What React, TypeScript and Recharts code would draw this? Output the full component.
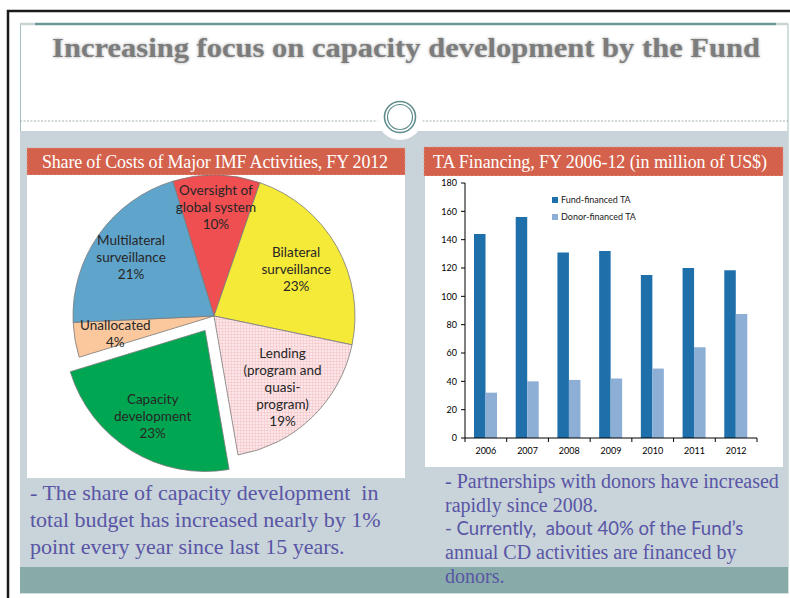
import { PieChart, Pie, Cell, BarChart, Bar, XAxis, YAxis, Legend } from 'recharts'

// ============================================
// Texts
// ============================================

const slideTitle = 'Increasing focus on capacity development by the Fund'
const pieTitle = 'Share of Costs of Major IMF Activities, FY 2012'
const barTitle = 'TA Financing, FY 2006-12 (in million of US$)'

const leftNote = [
  '- The share of capacity development  in',
  'total budget has increased nearly by 1%',
  'point every year since last 15 years.',
]
const rightNote = [
  '- Partnerships with donors have increased',
  'rapidly since 2008.',
  '- Currently,  about 40% of the Fund\u2019s',
  'annual CD activities are financed by',
  'donors.',
]

// ============================================
// Pie data (clockwise, starting at the red slice)
// ============================================

const activityNames = [
  'Oversight of global system',
  'Bilateral surveillance',
  'Lending (program and quasi-program)',
  'Capacity development',
  'Unallocated',
  'Multilateral surveillance',
]
const activityShares = [10, 23, 19, 23, 4, 21]
const activityLabelLines = [
  ['Oversight of', 'global system'],
  ['Bilateral', 'surveillance'],
  ['Lending', '(program and', 'quasi-', 'program)'],
  ['Capacity', 'development'],
  ['Unallocated'],
  ['Multilateral', 'surveillance'],
]

// ============================================
// Bar data
// ============================================

const years = ['2006', '2007', '2008', '2009', '2010', '2011', '2012']
const fundFinanced = [144, 156, 131, 132, 115, 120, 118.5]
const donorFinanced = [32, 40, 41, 42, 49, 64, 87.5]
const seriesNames = ['Fund-financed TA', 'Donor-financed TA']
const yTicks = [0, 20, 40, 60, 80, 100, 120, 140, 160, 180]

// ============================================
// Styles
// ============================================

const sliceFills = ['#ef4f51', '#f6ea38', 'url(#pinkGrid)', '#00a651', '#fbc89d', '#5fa4cb']
const labelRadius = [0.77, 0.67, 0.7, 0.71, 0.71, 0.72]
const explodedIndex = 3
const explodeBy = 17
const startAngle = 107
const seriesColors = ['#1f6fab', '#8daed5']

const noteColor = '#5955a5'
const RADIAN = Math.PI / 180

const pieData = activityNames.map((name, i) => ({ name, share: activityShares[i] }))
const barData = years.map((year, i) => ({ year, fund: fundFinanced[i], donor: donorFinanced[i] }))

// offset of the pulled-out slice, along its middle angle
const totalShare = activityShares.reduce((a, b) => a + b, 0)
const shareBefore = activityShares.slice(0, explodedIndex).reduce((a, b) => a + b, 0)
const explodedMid = startAngle - ((shareBefore + activityShares[explodedIndex] / 2) / totalShare) * 360
const explodeDx = explodeBy * Math.cos(explodedMid * RADIAN)
const explodeDy = -explodeBy * Math.sin(explodedMid * RADIAN)

// ============================================
// Pie labels
// ============================================

function sliceLabel(props: any, onlyExploded: boolean) {
  const { cx, cy, midAngle, outerRadius, index } = props
  if ((index === explodedIndex) !== onlyExploded) return <g />
  const r = outerRadius * labelRadius[index]
  const x = cx + r * Math.cos(-midAngle * RADIAN)
  const y = cy + r * Math.sin(-midAngle * RADIAN)
  const lines = [...activityLabelLines[index], `${activityShares[index]}%`]
  const lh = 17
  const y0 = y - ((lines.length - 1) * lh) / 2
  return (
    <text
      x={x}
      y={y0}
      textAnchor="middle"
      dominantBaseline="central"
      fill="#262626"
      fontSize={13.5}
      fontFamily="Lato, 'Open Sans', sans-serif"
    >
      {lines.map((l, i) => (
        <tspan key={i} x={x} y={y0 + i * lh}>
          {l}
        </tspan>
      ))}
    </text>
  )
}

function CostPie() {
  return (
    <PieChart width={378} height={303} margin={{ top: 0, right: 0, bottom: 0, left: 0 }}>
      <defs>
        <pattern id="pinkGrid" width={3} height={3} patternUnits="userSpaceOnUse">
          <rect width={3} height={3} fill="#fde6e7" />
          <path d="M0 0.3H3M0.3 0V3" stroke="#f1bfc4" strokeWidth={0.6} />
        </pattern>
      </defs>
      <Pie
        data={pieData}
        dataKey="share"
        nameKey="name"
        cx={187}
        cy={141}
        outerRadius={141}
        startAngle={startAngle}
        endAngle={startAngle - 360}
        label={(p: any) => sliceLabel(p, false)}
        labelLine={false}
        isAnimationActive={false}
      >
        {pieData.map((_, i) => (
          <Cell
            key={`main-${i}`}
            fill={i === explodedIndex ? 'none' : sliceFills[i]}
            stroke={i === explodedIndex ? 'none' : '#7a7a7a'}
            strokeWidth={0.8}
          />
        ))}
      </Pie>
      <Pie
        data={pieData}
        dataKey="share"
        nameKey="name"
        cx={187 + explodeDx}
        cy={141 + explodeDy}
        outerRadius={141}
        startAngle={startAngle}
        endAngle={startAngle - 360}
        label={(p: any) => sliceLabel(p, true)}
        labelLine={false}
        isAnimationActive={false}
      >
        {pieData.map((_, i) => (
          <Cell
            key={`pulled-${i}`}
            fill={i === explodedIndex ? sliceFills[i] : 'none'}
            stroke={i === explodedIndex ? '#7a7a7a' : 'none'}
            strokeWidth={0.8}
          />
        ))}
      </Pie>
    </PieChart>
  )
}

// ============================================
// Bar chart
// ============================================

function YearTick(props: any) {
  const { x, y, payload, index } = props
  const half = payload && payload.offset ? payload.offset : 20.8
  const axisY = y - 10
  return (
    <g>
      <line x1={x - half} x2={x - half} y1={axisY} y2={axisY + 4} stroke="#000" />
      {index === years.length - 1 && (
        <line x1={x + half} x2={x + half} y1={axisY} y2={axisY + 4} stroke="#000" />
      )}
      <text x={x} y={y} dy="0.71em" textAnchor="middle" fontSize={9} fill="#000">
        {payload.value}
      </text>
    </g>
  )
}

// legend keeps the series order of the source chart
function LegendBox() {
  return (
    <div style={{ fontSize: 9, color: '#222', lineHeight: '17px' }}>
      {seriesNames.map((name, i) => (
        <div key={name} style={{ display: 'flex', alignItems: 'center' }}>
          <span style={{ width: 6, height: 6, background: seriesColors[i], marginRight: 3 }} />
          {name}
        </div>
      ))}
    </div>
  )
}

function FinancingBars() {
  return (
    <BarChart
      width={358}
      height={291}
      data={barData}
      margin={{ top: 7, right: 26, bottom: 0, left: 0 }}
      barGap={0}
      barSize={11.5}
    >
      <XAxis
        dataKey="year"
        height={29}
        interval={0}
        axisLine={{ stroke: '#000' }}
        tickLine={false}
        tickSize={4}
        tickMargin={6}
        tick={(p: any) => <YearTick {...p} />}
      />
      <YAxis
        width={40}
        domain={[0, 180]}
        ticks={yTicks}
        interval={0}
        axisLine={{ stroke: '#000' }}
        tickLine={{ stroke: '#000' }}
        tickSize={4}
        tickMargin={4}
        tick={{ fill: '#000', fontSize: 9 }}
      />
      <Legend
        layout="vertical"
        align="center"
        verticalAlign="middle"
        wrapperStyle={{ left: 127, top: 15, width: 140 }}
        content={() => <LegendBox />}
      />
      <Bar dataKey="fund" name={seriesNames[0]} fill={seriesColors[0]} isAnimationActive={false} />
      <Bar dataKey="donor" name={seriesNames[1]} fill={seriesColors[1]} isAnimationActive={false} />
    </BarChart>
  )
}

// ============================================
// Slide backdrop
// ============================================

function SlideBackdrop() {
  const serif = "'Liberation Serif', 'Times New Roman', serif"
  return (
    <svg width={790} height={598} style={{ position: 'absolute', left: 0, top: 0 }}>
      <defs>
        <filter id="titleGlow" x="-5%" y="-60%" width="110%" height="220%">
          <feGaussianBlur stdDeviation={1.8} />
        </filter>
      </defs>
      <rect width={790} height={598} fill="#fff" />
      <path d="M8 598 V11 H790" fill="none" stroke="#1b1b1b" strokeWidth={2.5} />

      <rect x={20.5} y={24} width={767.5} height={569} fill="none" stroke="#a3bfbf" strokeWidth={1} />
      <line x1={20} x2={35} y1={24} y2={24} stroke="#c8d4d4" strokeWidth={2.5} />
      <line x1={35} x2={776} y1={24} y2={24} stroke="#6c9898" strokeWidth={2.5} />
      <line x1={776} x2={788} y1={24} y2={24} stroke="#c8d4d4" strokeWidth={2.5} />

      <text
        x={406}
        y={57}
        textAnchor="middle"
        fontFamily={serif}
        fontWeight="bold"
        fontSize={28}
        textLength={708}
        lengthAdjust="spacingAndGlyphs"
        fill="#a0a0a0"
        filter="url(#titleGlow)"
      >
        {slideTitle}
      </text>
      <text
        x={406}
        y={57}
        textAnchor="middle"
        fontFamily={serif}
        fontWeight="bold"
        fontSize={28}
        textLength={708}
        lengthAdjust="spacingAndGlyphs"
        fill="#7c7c7c"
      >
        {slideTitle}
      </text>

      <line x1={20} x2={381} y1={121} y2={121} stroke="#8e9c9c" strokeWidth={0.8} strokeDasharray="2 1.5" />
      <line x1={419} x2={788} y1={121} y2={121} stroke="#8e9c9c" strokeWidth={0.8} strokeDasharray="2 1.5" />

      <rect x={20} y={131} width={768} height={436} fill="#c8d3da" />
      <rect x={20} y={567} width={768} height={26} fill="#88aba9" />

      <circle cx={400} cy={117} r={23} fill="#fff" />
      <circle cx={400} cy={117} r={15.5} fill="none" stroke="#5f8d8d" strokeWidth={1.6} />
      <circle cx={400} cy={117} r={12.5} fill="none" stroke="#5f8d8d" strokeWidth={1.2} />

      <rect x={27} y={148} width={378} height={27} fill="#d4614b" stroke="#e9a08e" strokeWidth={0.8} strokeDasharray="2 2" />
      <rect x={424} y={147} width={359} height={29} fill="#d4614b" stroke="#e9a08e" strokeWidth={0.8} strokeDasharray="2 2" />
      <text x={42} y={168} fontFamily={serif} fontSize={18} fill="#fff" textLength={346}>
        {pieTitle}
      </text>
      <text x={433} y={168} fontFamily={serif} fontSize={18} fill="#fff" textLength={334}>
        {barTitle}
      </text>

      <rect x={27} y={175} width={378} height={303} fill="#fff" />
      <rect x={425} y={176} width={358} height={291} fill="#fff" />

      {leftNote.map((line, i) => (
        <text key={i} x={30} y={500 + i * 27} fontFamily={serif} fontSize={22} fill={noteColor} xmlSpace="preserve">
          {line}
        </text>
      ))}
      {rightNote.map((line, i) => (
        <text
          key={i}
          x={445}
          y={488 + i * 23.7}
          fontFamily={i === 2 ? "Lato, 'Open Sans', sans-serif" : serif}
          fontSize={i === 2 ? 18.5 : 20}
          fill={noteColor}
          xmlSpace="preserve"
        >
          {line}
        </text>
      ))}
    </svg>
  )
}

// ============================================
// App
// ============================================

export default function App() {
  return (
    <div
      style={{
        position: 'absolute',
        left: 0,
        top: 0,
        width: 790,
        height: 598,
        overflow: 'hidden',
        fontFamily: "Lato, 'Open Sans', sans-serif",
      }}
    >
      <SlideBackdrop />
      <div style={{ position: 'absolute', left: 27, top: 175 }}>
        <CostPie />
      </div>
      <div style={{ position: 'absolute', left: 425, top: 176 }}>
        <FinancingBars />
      </div>
    </div>
  )
}
